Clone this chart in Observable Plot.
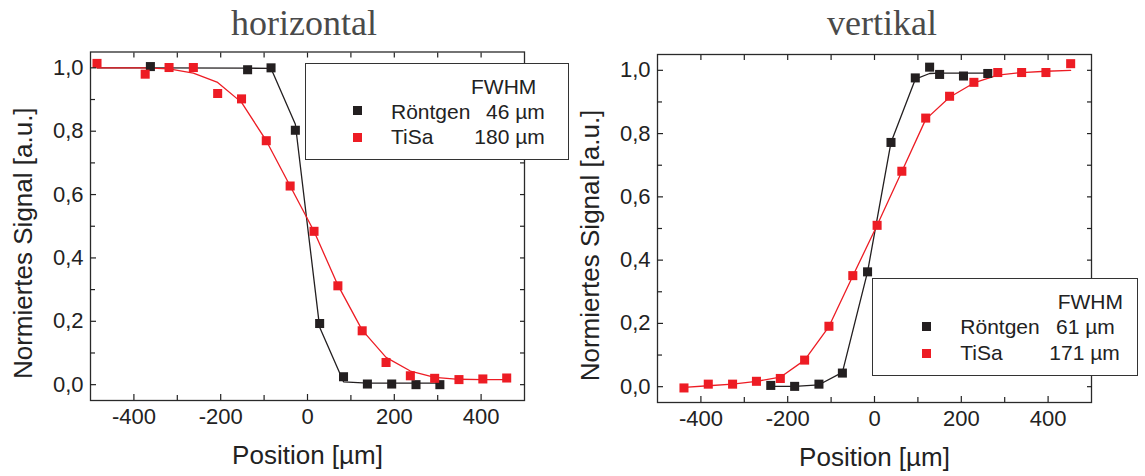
<!DOCTYPE html>
<html><head><meta charset="utf-8">
<script src="https://cdn.jsdelivr.net/npm/d3@7"></script>
<script src="https://cdn.jsdelivr.net/npm/@observablehq/plot@0.6"></script>
<style>
body{margin:0;background:#fff;}
#wrap{position:relative;width:1145px;height:476px;overflow:hidden;font-family:'Liberation Sans',Arial,sans-serif;background:#fff;}
.title{position:absolute;top:0;width:400px;height:46px;line-height:46px;text-align:center;font-family:'Liberation Serif','Times New Roman',serif;font-size:36px;color:#4a4a4a;}
.panel{position:absolute;top:46px;}
.legend{position:absolute;background:#fff;border:1.3px solid #333;box-sizing:border-box;}
.legend span{position:absolute;font-size:21px;line-height:21px;color:#222;white-space:nowrap;}
.legend i{position:absolute;width:9px;height:9px;}
</style></head>
<body><div id="wrap"></div>
<script>
// ---------- data ----------
const titles = ["horizontal", "vertikal"];
const xLabel = "Position [µm]";
const yLabel = "Normiertes Signal [a.u.]";
const xDomain = [-500, 500];
const yDomain = [-0.05, 1.05];
const xMajor = [-400, -200, 0, 200, 400];
const xMinor = [-300, -100, 100, 300];
const yMajor = [0, 0.2, 0.4, 0.6, 0.8, 1.0];
const yMinor = [0.1, 0.3, 0.5, 0.7, 0.9];
const seriesNames = ["Röntgen", "TiSa"];
const legendHead = "FWHM";
const hFwhm = ["46 µm", "180 µm"];
const vFwhm = ["61 µm", "171 µm"];

// horizontal – Röntgen (black)
const hBlackX = [-362, -138, -84, -28, 28, 83, 138, 194, 250, 305];
const hBlackY = [1.004, 0.994, 1.0, 0.803, 0.193, 0.025, 0.002, 0.002, 0.0, 0.0];
const hBlackFitX = [-485, -362, -138, -84, -28, 28, 83, 138, 194, 250, 305];
const hBlackFitY = [1.0, 1.0, 0.999, 0.998, 0.822, 0.181, 0.009, 0.005, 0.005, 0.005, 0.005];
// horizontal – TiSa (red)
const hRedX = [-485, -374, -319, -263, -207, -152, -95, -40, 15, 70, 126, 181, 237, 293, 349, 404, 459];
const hRedY = [1.014, 0.980, 1.001, 1.001, 0.919, 0.902, 0.770, 0.627, 0.484, 0.312, 0.170, 0.070, 0.028, 0.020, 0.016, 0.018, 0.021];
const hRedFitY = [1.0, 1.0, 0.997, 0.983, 0.954, 0.891, 0.770, 0.627, 0.484, 0.314, 0.172, 0.086, 0.043, 0.023, 0.017, 0.016, 0.016];

// vertikal – Röntgen (black)
const vBlackX = [-239, -184, -128, -74, -16, 38, 94, 127, 150, 205, 261];
const vBlackY = [0.004, 0.001, 0.008, 0.043, 0.363, 0.772, 0.976, 1.010, 0.987, 0.982, 0.990];
const vBlackFitY = [0.001, 0.001, 0.006, 0.045, 0.363, 0.772, 0.972, 0.990, 0.991, 0.991, 0.991];
// vertikal – TiSa (red)
const vRedX = [-439, -383, -327, -272, -217, -161, -105, -50, 6, 63, 118, 173, 229, 284, 339, 395, 452];
const vRedY = [-0.004, 0.008, 0.008, 0.017, 0.026, 0.084, 0.191, 0.351, 0.510, 0.681, 0.849, 0.918, 0.962, 0.993, 0.993, 0.993, 1.021];
const vRedFitY = [-0.002, 0.003, 0.008, 0.017, 0.030, 0.084, 0.190, 0.350, 0.510, 0.680, 0.845, 0.915, 0.960, 0.985, 0.993, 0.997, 1.0];

// ---------- styling ----------
const BLACK = "#231f20", RED = "#ed1c24", INK = "#2a2a2a";
const rows = (xs, ys) => xs.map((x, i) => ({x, y: ys[i]}));
const fmtY = d => d.toFixed(1).replace(".", ",");
const blank = () => "";

function panel(cfg) {
  return Plot.plot({
    width: cfg.width, height: 430,
    marginLeft: cfg.ml, marginRight: cfg.mr, marginTop: cfg.mt, marginBottom: cfg.mb,
    style: {fontFamily: "'Liberation Sans', Arial, sans-serif", color: "#222", background: "transparent", overflow: "visible"},
    x: {domain: xDomain},
    y: {domain: yDomain},
    marks: [
      Plot.line(cfg.blackFit, {x: "x", y: "y", stroke: BLACK, strokeWidth: 1.3}),
      Plot.line(cfg.redFit, {x: "x", y: "y", stroke: RED, strokeWidth: 1.3}),
      Plot.dot(cfg.black, {x: "x", y: "y", symbol: "square", r: 5.1, fill: BLACK}),
      Plot.dot(cfg.red, {x: "x", y: "y", symbol: "square", r: 5.1, fill: RED}),
      Plot.frame({stroke: INK, strokeWidth: 1.3}),
      Plot.axisX(xMajor, {anchor: "bottom", tickSize: -6, tickPadding: 14, strokeWidth: 1.2, tickFormat: d => String(d), fontSize: 22, label: null}),
      Plot.axisX(xMinor, {anchor: "bottom", tickSize: -5, strokeWidth: 1.2, tickFormat: blank, label: null}),
      Plot.axisX(xMajor.concat(xMinor), {anchor: "top", tickSize: -5, strokeWidth: 1.2, tickFormat: blank, label: null}),
      Plot.axisY(yMajor, {anchor: "left", tickSize: -6, tickPadding: 13, strokeWidth: 1.2, tickFormat: fmtY, fontSize: 22, label: null}),
      Plot.axisY(yMinor, {anchor: "left", tickSize: -5, strokeWidth: 1.2, tickFormat: blank, label: null}),
      Plot.axisY(yMajor.concat(yMinor), {anchor: "right", tickSize: -5, strokeWidth: 1.2, tickFormat: blank, label: null}),
      Plot.text([yLabel], {text: d => d, frameAnchor: "left", textAnchor: "middle", rotate: -90, dx: -77, dy: 17, lineAnchor: "top", fontSize: 26, fill: "#222"}),
      Plot.text([xLabel], {text: d => d, frameAnchor: "bottom", textAnchor: "middle", dy: 45, lineAnchor: "top", fontSize: 26, fill: "#222"})
    ]
  });
}

function legend(box, fwhm) {
  const el = document.createElement("div");
  el.className = "legend";
  Object.assign(el.style, {left: box.left + "px", top: box.top + "px", width: box.w + "px", height: box.h + "px"});
  const add = (tag, txt, st) => { const s = document.createElement(tag); if (txt) s.textContent = txt; Object.assign(s.style, st); el.appendChild(s); };
  add("span", legendHead, {left: box.head + "px", top: "12.2px"});
  const colors = [BLACK, RED];
  seriesNames.forEach((name, i) => {
    add("i", "", {left: (box.mk - 4.5) + "px", top: (box.mkY[i] - 4.5) + "px", background: colors[i]});
    add("span", name, {left: box.name + "px", top: box.rowTop[i] + "px"});
    add("span", fwhm[i], {left: box.val[i] + "px", top: box.rowTop[i] + "px"});
  });
  return el;
}

const wrap = document.getElementById("wrap");
const cfgs = [
  {width: 572, left: 0, ml: 90, mr: 48, mt: 5.5, mb: 76, titleLeft: 104,
   black: rows(hBlackX, hBlackY), blackFit: rows(hBlackFitX, hBlackFitY),
   red: rows(hRedX, hRedY), redFit: rows(hRedX, hRedFitY),
   box: {left: 305, top: 62.7, w: 264, h: 97.3, head: 165, mk: 51.7, mkY: [47.3, 74], name: 85, val: [180, 168.3], rowTop: [37.2, 62.8]},
   fwhm: hFwhm},
  {width: 573, left: 572, ml: 85, mr: 54, mt: 8, mb: 74, titleLeft: 682,
   black: rows(vBlackX, vBlackY), blackFit: rows(vBlackX, vBlackFitY),
   red: rows(vRedX, vRedY), redFit: rows(vRedX, vRedFitY),
   box: {left: 872.3, top: 278.3, w: 266, h: 97.4, head: 184.4, mk: 53.7, mkY: [47.7, 74], name: 87, val: [182.7, 176], rowTop: [37.2, 63.2]},
   fwhm: vFwhm}
];
cfgs.forEach((cfg, i) => {
  const t = document.createElement("div");
  t.className = "title"; t.textContent = titles[i]; t.style.left = cfg.titleLeft + "px";
  wrap.appendChild(t);
  const p = document.createElement("div");
  p.className = "panel"; p.style.left = cfg.left + "px";
  p.appendChild(panel(cfg));
  wrap.appendChild(p);
});
cfgs.forEach(cfg => wrap.appendChild(legend(cfg.box, cfg.fwhm)));
</script>
</body></html>
